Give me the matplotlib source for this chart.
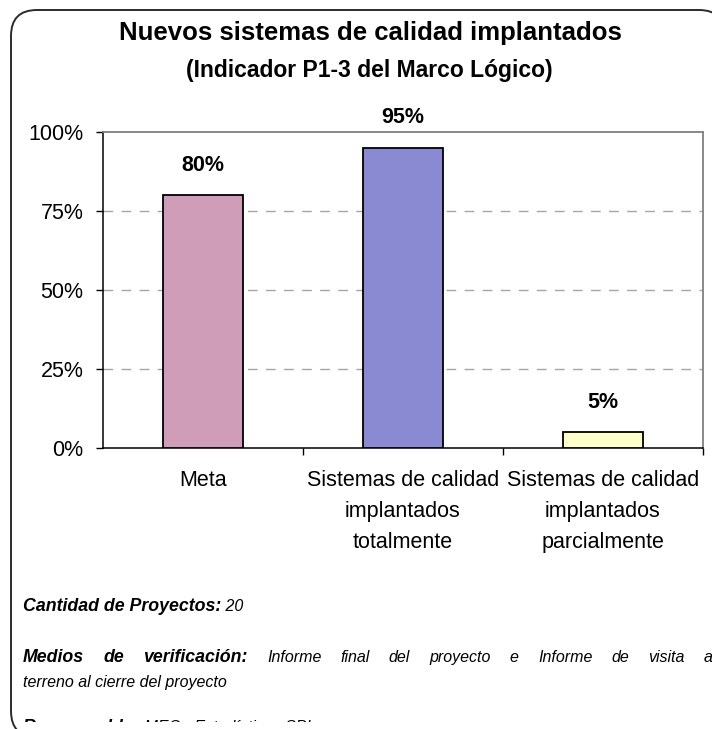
import matplotlib
matplotlib.use("Agg")
import matplotlib.pyplot as plt
from matplotlib import font_manager
from matplotlib.patches import FancyBboxPatch, Rectangle

# data
categories = ["Meta",
              "Sistemas de calidad\nimplantados\ntotalmente",
              "Sistemas de calidad\nimplantados\nparcialmente"]
values = [80, 95, 5]
bar_colors = ["#CF9DB7", "#8A8AD2", "#FFFFCC"]
yticks = [0, 25, 50, 75, 100]
ytick_labels = ["0%", "25%", "50%", "75%", "100%"]

title = "Nuevos sistemas de calidad implantados"
subtitle = "(Indicador P1-3 del Marco Lógico)"

plt.rcParams["font.family"] = ["Liberation Sans", "DejaVu Sans"]
names = {f.name for f in font_manager.fontManager.ttflist}
narrow = "Liberation Sans Narrow" if "Liberation Sans Narrow" in names else "Liberation Sans"
bold_size, reg_size = (14, 13) if narrow == "Liberation Sans Narrow" else (12.8, 11.5)

W, H = 712, 729
fig = plt.figure(figsize=(W / 100, H / 100), dpi=100)

# background layer in pixel coordinates
bg = fig.add_axes([0, 0, 1, 1])
bg.set_xlim(0, W)
bg.set_ylim(H, 0)
bg.axis("off")
frame = FancyBboxPatch((11, 10), 725 - 11, 737 - 10,
                       boxstyle="round,pad=0,rounding_size=26",
                       fc="white", ec="#2b2b2b", lw=1.4, clip_on=False)
bg.add_patch(frame)

bg.text(370, 33, title, ha="center", va="center", fontsize=18.5, fontweight="bold")
bg.text(369, 70, subtitle, ha="center", va="center", fontsize=16.5, fontweight="bold")

# chart
ax = fig.add_axes([103 / W, (H - 448) / H, 600 / W, 316 / H])
x = range(len(values))
ax.bar(x, values, width=0.4, color=bar_colors, edgecolor="black", linewidth=1.3, zorder=3)
for i, v in enumerate(values):
    ax.text(i, v + 9.5, f"{v}%", ha="center", va="center", fontsize=15.5, fontweight="bold")

ax.set_xlim(-0.5, 2.5)
ax.set_ylim(0, 100)
ax.set_yticks(yticks)
ax.set_yticklabels(ytick_labels, fontsize=15.5)
ax.set_xticks([0.5, 1.5, 2.5])
ax.set_xticklabels([])
ax.set_xticks(list(x), minor=True)
ax.set_xticklabels(categories, minor=True, fontsize=15.5, linespacing=1.62)
ax.tick_params(axis="x", which="major", direction="out", length=5, width=1, color="black")
ax.tick_params(axis="x", which="minor", length=0, pad=16)
ax.tick_params(axis="y", direction="out", length=5, width=1, pad=9)
for y in yticks[1:-1]:
    ax.axhline(y, color="#a6a6a6", lw=1, dashes=(7, 6), zorder=1)
for side in ["top", "right"]:
    ax.spines[side].set_color("#808080")
    ax.spines[side].set_linewidth(1.3)
for side in ["left", "bottom"]:
    ax.spines[side].set_color("black")
    ax.spines[side].set_linewidth(1.1)

# notes below the chart
fig.canvas.draw()
renderer = fig.canvas.get_renderer()
clip = Rectangle((0, 0), W, 722, transform=bg.transData, visible=False)
bg.add_patch(clip)


def run(parts, x0, y, x_end=None):
    texts = []
    for s, bold in parts:
        t = bg.text(x0, y, s, ha="left", va="baseline", fontstyle="italic",
                    fontsize=bold_size if bold else reg_size,
                    fontweight="bold" if bold else "normal", family=[narrow, "DejaVu Sans"],
                    clip_on=True)
        t.set_clip_path(clip)
        texts.append(t)
    widths = [t.get_window_extent(renderer).width for t in texts]
    if x_end is None:
        gap = 0
    else:
        gap = (x_end - x0 - sum(widths)) / (len(texts) - 1)
    pos = x0
    for t, w in zip(texts, widths):
        t.set_x(pos)
        pos += w + gap


run([("Cantidad de Proyectos:", True), (" 20", False)], 23, 611)
words = [("Medios", True), ("de", True), ("verificación:", True)] + \
        [(w, False) for w in "Informe final del proyecto e Informe de visita a".split()]
run(words, 23, 662, x_end=713)
run([("terreno al cierre del proyecto", False)], 23, 687)
run([("Responsable:", True), (" MEC - Estadísticas SPI", False)], 23, 732)

fig.savefig("out.png", dpi=100)
